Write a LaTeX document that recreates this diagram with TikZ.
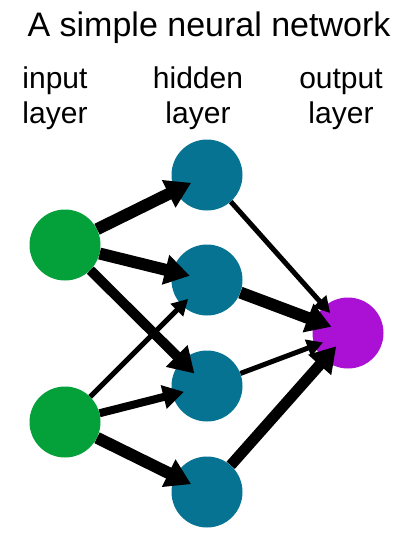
\documentclass[tikz,border=0pt]{standalone}
\usepackage{fontspec}
\setmainfont{Liberation Sans}
\usetikzlibrary{arrows.meta}

\definecolor{ingreen}{HTML}{04A13B}
\definecolor{hidteal}{HTML}{067393}
\definecolor{outpurple}{HTML}{AA11D5}

\begin{document}
\begin{tikzpicture}[x=1pt,y=-1pt,
		neuron/.style={circle,minimum size=71pt,inner sep=0pt},
		layertext/.style={anchor=base,align=center,font=\fontsize{30}{35}\selectfont},
		heavy/.style={line width=12pt,-{Triangle[length=25pt,width=29pt]},shorten >=-18pt},
		medium/.style={line width=8pt,-{Triangle[length=21pt,width=23pt]},shorten >=-12pt},
		light/.style={line width=5pt,-{Triangle[length=16pt,width=17pt]},shorten >=-9pt}]
		\useasboundingbox (0,0) rectangle (412,547);
		
		\node[anchor=base,font=\fontsize{34}{40}\selectfont] (title) at (209,36) {A simple neural network};
		\node[layertext] (inlab) at (55,123) {input\\layer};
		\node[layertext] (hidlab) at (198,123) {hidden\\layer};
		\node[layertext] (outlab) at (341,123) {output\\layer};
		
		\node[neuron,fill=ingreen] (a) at (65,245) {};
		\node[neuron,fill=ingreen] (b) at (65,422) {};
		\node[neuron,fill=hidteal] (c) at (207,175) {};
		\node[neuron,fill=hidteal] (d) at (207,280) {};
		\node[neuron,fill=hidteal] (e) at (207,386) {};
		\node[neuron,fill=hidteal] (f) at (207,492) {};
		\node[neuron,fill=outpurple] (g) at (348,333) {};
		
		\draw[heavy] (a) -- (c);
		\draw[heavy] (a) -- (d);
		\draw[heavy,line width=10pt] (a) -- (e);
		\draw[light] (b) -- (d);
		\draw[medium] (b) -- (e);
		\draw[heavy] (b) -- (f);
		\draw[light] (c) -- (g);
		\draw[heavy] (d) -- (g);
		\draw[light] (e) -- (g);
		\draw[heavy,line width=11pt] (f) -- (g);
	\end{tikzpicture}
\end{document}
